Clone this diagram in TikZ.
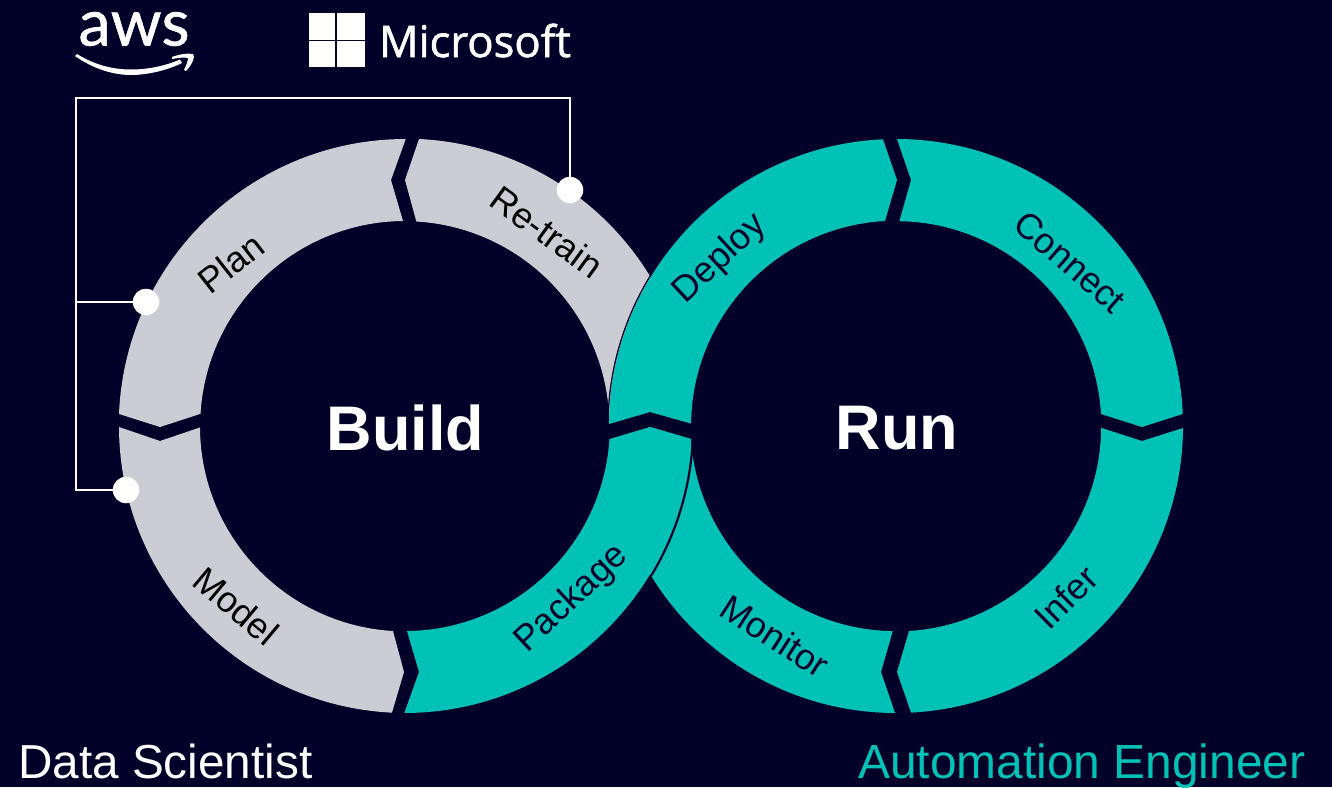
\documentclass[tikz,border=0pt]{standalone}
\usepackage{fontspec}
\setmainfont{Liberation Sans}
\newfontfamily\logofont[FakeBold=0.9]{Lato}
\newfontfamily\msfont[FakeBold=1.3]{Open Sans}
\definecolor{bgc}{HTML}{000028}
\definecolor{tealc}{HTML}{00C1B6}
\definecolor{greyc}{HTML}{CCCCD4}
\tikzset{
  greyseg/.style={fill=greyc,draw=none},
  tealseg/.style={fill=tealc,draw=none},
  edgeline/.style={draw=bgc,line cap=butt},
  wire/.style={draw=white,line width=1.9pt},
  dotnode/.style={circle,fill=white,draw=none,minimum size=26.5pt,inner sep=0pt},
  ringlabel/.style={font=\fontsize{36}{36}\selectfont,inner sep=0pt},
  bigtitle/.style={font=\fontsize{63}{63}\selectfont\bfseries,text=white,inner sep=0pt},
  footer/.style={inner sep=0pt,anchor=base west},
}
\begin{document}
\begin{tikzpicture}[x=1pt,y=-1pt]
\useasboundingbox (0,0) rectangle (1332,787);
\fill[bgc] (0,0) rectangle (1332,787);
\def\Ro{287pt}\def\Ri{205pt}
% left ring
\path[greyseg] (119,414) arc[start angle=-182.4,end angle=-270,radius=\Ro] -- (391,180) -- (403,221) arc[start angle=-269.4,end angle=-183.4,radius=\Ri] -- (160,427) -- cycle;
\path[greyseg] (419,139) arc[start angle=-272.8,end angle=-350,radius=\Ro] -- (609,414) arc[start angle=-356.6,end angle=-273.35,radius=\Ri] -- (405,180) -- cycle;
\path[greyseg] (119,427) arc[start angle=-179.8,end angle=-92.8,radius=\Ro] -- (404,672) -- (393,631) arc[start angle=-93.35,end angle=-179.7,radius=\Ri] -- (160,441) -- cycle;
% right ring
\path[tealseg] (895,713) arc[start angle=-90.2,end angle=-176,radius=\Ro] -- (650,427) -- (691,439) arc[start angle=-176.4,end angle=-90.8,radius=\Ri] -- (881,672) -- cycle;
\path[tealseg] (897,139) arc[start angle=-270.2,end angle=-357.6,radius=\Ro] -- (1142,427) -- (1101,414) arc[start angle=-356.6,end angle=-270.84,radius=\Ri] -- (911,180) -- cycle;
\path[tealseg] (1183,428) arc[start angle=-0.4,end angle=-87,radius=\Ro] -- (897,672) -- (909,631) arc[start angle=-86.4,end angle=-0.4,radius=\Ri] -- (1142,441) -- cycle;
% package (over monitor)
\path[tealseg] (691,439) arc[start angle=-2.6,end angle=-90,radius=\Ro] -- (419,672) -- (407,631) arc[start angle=-89.4,end angle=-3.65,radius=\Ri] -- (650,427) -- cycle;
\draw[edgeline,line width=2.2pt] (692.6,443) arc[start angle=-3.4,end angle=-42,radius=288.5pt];
% deploy (over re-train)
\path[tealseg] (609,424) arc[start angle=-180.4,end angle=-267.4,radius=\Ro] -- (897,180) -- (885,221) arc[start angle=-266.9,end angle=-180.6,radius=\Ri] -- (650,412) -- cycle;
\draw[edgeline,line width=1.3pt] (608.2,415) arc[start angle=-182.2,end angle=-222,radius=288pt];
% titles
\node[bigtitle] (build) at (405.5,428) {Build};
\node[bigtitle] (run) at (897,428) {Run};
% ring labels
\node[ringlabel,rotate=38,text=black] (plan) at (231,263) {Plan};
\node[ringlabel,rotate=-36,text=black] (retrain) at (547,232) {Re-train};
\node[ringlabel,rotate=-40,text=black] (model) at (236,606) {Model};
\node[ringlabel,rotate=43,text=bgc] (package) at (572,599) {Package};
\node[ringlabel,rotate=43,text=bgc] (deploy) at (720,259) {Deploy};
\node[ringlabel,rotate=-41,text=bgc] (connect) at (1070,262) {Connect};
\node[ringlabel,rotate=45,text=bgc] (infer) at (1066,597) {Infer};
\node[ringlabel,rotate=-33,text=bgc] (monitor) at (775,636) {Monitor};
% wires
\node[dotnode] (dotR) at (570,190) {};
\node[dotnode] (dotP) at (146,302) {};
\node[dotnode] (dotM) at (126,490) {};
\coordinate (tr) at (570,98);
\coordinate (tl) at (76,98);
\coordinate (bl) at (76,490);
\coordinate (jn) at (76,302);
\draw[wire] (dotR.center) -- (tr) -- (tl) -- (bl) -- (dotM.center);
\draw[wire] (jn) -- (dotP.center);
% footers
\node[footer,text=white,font=\fontsize{47.7}{47.7}\selectfont] (ds) at (18,778) {Data Scientist};
\node[footer,text=tealc,font=\fontsize{47.9}{47.9}\selectfont] (ae) at (858,778) {Automation Engineer};
% aws logo
\node[inner sep=0pt,anchor=base,text=white,font=\logofont\fontsize{65}{65}\selectfont] (aws) at (134,45.5) {aws};
\fill[white] (75,56) .. controls (92,68) and (112,75) .. (131,75) .. controls (148,75) and (168,70) .. (182,63) -- (180,59.5) .. controls (165,66) and (148,69.5) .. (131,69.5) .. controls (111,69.5) and (93,64) .. (77,54) -- cycle;
\fill[white] (172,57) .. controls (180,54) and (188,53) .. (193,54) -- (194,57) .. controls (193,62) and (190,67) .. (186,71) -- (184,70) .. controls (186,66) and (188,61) .. (188,58) .. controls (184,57) and (178,58) .. (172,59) -- cycle;
% microsoft logo
\fill[white] (309,13) rectangle (335,39.5);
\fill[white] (337,13) rectangle (365,39.5);
\fill[white] (309,41) rectangle (335,67);
\fill[white] (337,41) rectangle (365,67);
\node[inner sep=0pt,anchor=base west,text=white,font=\msfont\fontsize{43.6}{43.6}\selectfont] (ms) at (379,57) {Microsoft};
\end{tikzpicture}
\end{document}
